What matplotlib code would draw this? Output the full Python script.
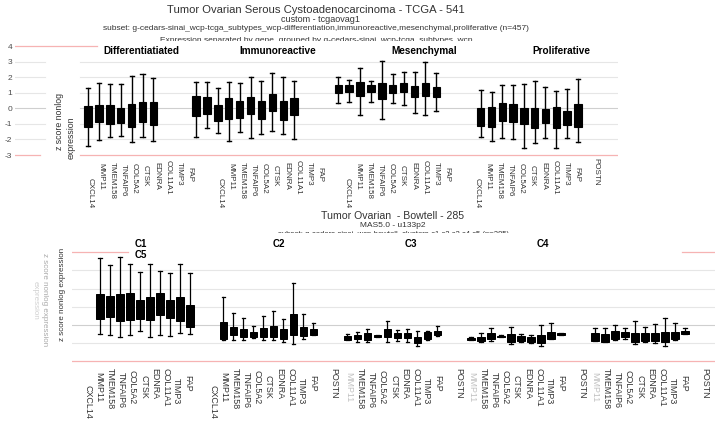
import matplotlib
matplotlib.use('Agg')
import matplotlib.pyplot as plt
from matplotlib.patches import Rectangle

plt.rcParams['font.family'] = ['Liberation Sans', 'DejaVu Sans']

W, H = 721, 424

# ---------------- data ----------------
genes = ['CXCL14', 'MMP11', 'TMEM158', 'TNFAIP6', 'COL5A2', 'CTSK',
         'EDNRA', 'COL11A1', 'TIMP3', 'FAP', 'POSTN']

top_title = 'Tumor Ovarian Serous Cystoadenocarcinoma - TCGA - 541'
top_sub1 = 'custom - tcgaovag1'
top_sub2 = ('subset: g-cedars-sinai_wcp-tcga_subtypes_wcp-differentiation,'
            'immunoreactive,mesenchymal,proliferative (n=457)')
top_sub3 = 'Expression separated by gene, grouped by g-cedars-sinai_wcp-tcga_subtypes_wcp'
top_groups = ['Differentiatiated', 'Immunoreactive', 'Mesenchymal', 'Proliferative']
top_yticks = [4, 3, 2, 1, 0, -1, -2, -3]

# (whisker high, q3, q1, whisker low)
diff = [(1.32, 0.17, -1.18, -2.40), (1.61, 0.19, -0.86, -2.04), (1.54, 0.21, -1.01, -1.86),
        (1.54, 0.04, -0.96, -1.76), (2.09, 0.26, -1.22, -2.15), (2.18, 0.39, -0.86, -1.84),
        (1.93, 0.42, -1.07, -2.09)]
immuno = [(1.67, 0.79, -0.49, -1.82), (1.69, 0.75, -0.37, -1.28), (1.32, 0.21, -0.80, -1.61),
          (1.67, 0.68, -0.69, -2.08), (1.61, 0.49, -0.60, -1.50), (2.03, 0.75, -0.37, -1.89),
          (1.75, 0.49, -0.69, -1.65), (2.25, 0.90, -0.15, -1.44), (2.03, 0.49, -0.75, -1.65),
          (1.75, 0.68, -0.43, -1.99)]
mesen = [(1.99, 1.50, 0.96, 0.32), (1.82, 1.50, 1.07, 0.42), (2.57, 1.67, 0.81, -0.43),
         (1.77, 1.50, 1.03, 0.39), (3.04, 1.61, 0.58, -0.71), (2.20, 1.50, 1.00, 0.32),
         (2.31, 1.64, 1.03, 0.21), (2.31, 1.43, 0.71, -0.28), (2.95, 1.64, 0.81, -0.43),
         (2.25, 1.35, 0.74, -0.17)]
prolif = [(1.18, 0.04, -1.14, -1.82), (1.03, 0.10, -1.18, -2.10), (1.50, 0.32, -0.80, -1.89),
          (1.50, 0.28, -0.86, -1.97), (1.56, 0.00, -1.01, -2.57), (1.75, 0.00, -1.28, -2.25),
          (1.35, -0.06, -0.96, -1.89), (1.13, 0.06, -1.25, -2.53), (1.22, -0.15, -1.07, -1.89),
          (1.86, 0.28, -1.22, -2.15)]

bot_title = 'Tumor Ovarian  - Bowtell - 285'
bot_sub1 = 'MAS5.0 - u133p2'
bot_sub2 = 'subset: g-cedars-sinai_wcp-bowtell_clusters-c1,c2,c3,c4,c5 (n=285)'
bot_groups = ['C1', 'C2', 'C3', 'C4']
bot_extra_label = 'C5'

c1 = [(3.66, 1.69, 0.31, -0.49), (3.30, 1.59, 0.42, -0.55), (3.72, 1.69, 0.24, -0.64),
      (3.35, 1.78, 0.27, -0.53), (2.93, 1.37, 0.31, -0.31), (3.35, 1.52, 0.27, -0.68),
      (2.98, 1.74, 0.55, -0.55), (2.87, 1.37, 0.37, -0.60), (3.35, 1.52, 0.24, -0.46),
      (2.84, 1.10, -0.09, -0.51)]
c2 = [(1.52, 0.18, -0.79, -0.82), (0.68, -0.09, -0.55, -0.82), (0.40, -0.24, -0.68, -0.82),
      (-0.05, -0.40, -0.68, -0.73), (0.51, -0.15, -0.64, -0.82), (0.79, -0.04, -0.68, -0.82),
      (0.33, -0.24, -0.77, -0.92), (2.29, 0.60, -0.55, -1.04), (0.60, -0.13, -0.60, -0.79),
      (0.09, -0.24, -0.55, -0.55)]
c3 = [(-0.49, -0.60, -0.82, -0.82), (-0.40, -0.55, -0.79, -0.92), (-0.24, -0.46, -0.82, -0.92),
      (-0.55, -0.55, -0.68, -0.68), (0.24, -0.24, -0.68, -0.92), (-0.27, -0.46, -0.73, -0.86),
      (-0.24, -0.46, -0.73, -0.92), (-0.31, -0.64, -0.97, -1.15), (-0.31, -0.40, -0.79, -0.82),
      (-0.05, -0.31, -0.55, -0.60)]
c4 = [(-0.64, -0.70, -0.82, -0.82), (-0.46, -0.64, -0.86, -0.92), (-0.18, -0.46, -0.79, -0.86),
      (-0.55, -0.59, -0.68, -0.68), (-0.09, -0.49, -0.92, -1.04), (-0.49, -0.60, -0.88, -0.92),
      (-0.55, -0.68, -0.92, -0.97), (0.00, -0.55, -1.01, -1.15), (0.13, -0.40, -0.79, -0.79),
      (-0.42, -0.46, -0.55, -0.55)]
c5 = [(-0.15, -0.46, -0.88, -0.88), (-0.18, -0.49, -0.92, -0.92), (0.00, -0.31, -0.79, -0.82),
      (-0.15, -0.37, -0.64, -0.79), (0.24, -0.42, -0.92, -1.04), (-0.09, -0.46, -0.86, -0.92),
      (0.05, -0.42, -0.88, -1.01), (0.40, -0.37, -0.92, -1.15), (0.13, -0.37, -0.79, -0.82),
      (-0.18, -0.33, -0.49, -0.49)]

ylabel_lines = ['z score nonlog', 'expression']

# ---------------- layout helpers ----------------
fig = plt.figure(figsize=(W / 100, H / 100), dpi=100)


def fx(px):
    return px / W


def fy(py):
    return 1 - py / H


def axes_px(x0, y0, x1, y1):
    return fig.add_axes([fx(x0), fy(y1), (x1 - x0) / W, (y1 - y0) / H])


def draw_boxes(ax, data, start, step, width, capw, lw):
    stats = [dict(whislo=lo, q1=q1, med=(q1 + q3) / 2, q3=q3, whishi=hi, fliers=[])
             for (hi, q3, q1, lo) in data]
    pos = [start + i * step for i in range(len(data))]
    ax.bxp(stats, positions=pos, widths=width, capwidths=capw, patch_artist=True,
           showfliers=False, manage_ticks=False,
           boxprops=dict(facecolor='black', edgecolor='black', linewidth=lw * 0.8),
           whiskerprops=dict(color='black', linewidth=lw),
           capprops=dict(color='black', linewidth=lw),
           medianprops=dict(color='black', linewidth=0.5))


GRID = '#e6e6e6'
ZERO = '#cfcfcf'
PINK = '#f6b3b3'
TXT = '#333333'

# ---------------- top panel ----------------
tx0, tx1, ty0, ty1 = 15, 618, 44, 157
top_slot_px, top_origin_px = 10.9, 88
top_zero_px, top_unit_px = 108.3, 15.57
axT = axes_px(tx0, ty0, tx1, ty1)
axT.set_xlim((tx0 - top_origin_px) / top_slot_px, (tx1 - top_origin_px) / top_slot_px)
axT.set_ylim((top_zero_px - ty1) / top_unit_px, (top_zero_px - ty0) / top_unit_px)
for s in axT.spines.values():
    s.set_visible(False)
axT.set_xticks([])
axT.set_yticks(top_yticks)
axT.set_yticklabels([str(v) for v in top_yticks])
axT.tick_params(axis='y', length=0, pad=2, labelsize=6, labelcolor='#4d4d4d')

gap0 = (45 - tx0) / (tx1 - tx0)
gap1 = (80 - tx0) / (tx1 - tx0)
for v in top_yticks[1:-1]:
    c = ZERO if v == 0 else GRID
    axT.axhline(v, 0, gap0, color=c, lw=0.8, zorder=0)
    axT.axhline(v, gap1, 1, color=c, lw=0.8, zorder=0)
axT.axhline(top_yticks[0], 0, (97 - tx0) / (tx1 - tx0), color=PINK, lw=0.9, zorder=0)
axT.axhline(top_yticks[-1], 0, gap0 - 0.008, color=PINK, lw=0.9, zorder=0)
axT.axhline(top_yticks[-1], gap1, 1, color=PINK, lw=0.9, zorder=0)

top_data = [diff, immuno, mesen, prolif]
top_box_start = [0.0, 9.91, 22.96, 36.03]
top_box_step = [1.0, 1.0, 1.0, 0.99]
for d, st, sp in zip(top_data, top_box_start, top_box_step):
    draw_boxes(axT, d, st, sp, 0.68, 0.37, 1.0)

# facet titles (top)
top_strip_px = [141, 278, 424, 561]
for name, px in zip(top_groups, top_strip_px):
    fig.text(fx(px), fy(51), name, ha='center', va='center', fontsize=7.2,
             fontweight='bold', color='black', zorder=11)

# gene labels (top)
top_label_start = [0.18, 12.11, 23.76, 35.69]
top_label_counts = [10, 10, 10, 11]
top_label_drop_px = [16, 1, 0, 2, 1, 3, 0, -2, 0, 5, -4]
for st, n in zip(top_label_start, top_label_counts):
    for i in range(n):
        x = st + i * 1.02 if i < 10 else st + 10.9
        ypx = 162 + top_label_drop_px[i]
        axT.text(x, (top_zero_px - ypx) / top_unit_px, genes[i], rotation=-90,
                 ha='center', va='top', fontsize=5.8, color=TXT, clip_on=False)

# y label (top)
fig.text(fx(59), fy(122), ylabel_lines[0], rotation=90, ha='center', va='center',
         fontsize=6.3, color=TXT)
fig.text(fx(71), fy(138), ylabel_lines[1], rotation=90, ha='center', va='center',
         fontsize=6.3, color=TXT)

# titles (top)
fig.text(fx(316), fy(10), top_title, ha='center', va='center', fontsize=8.1, color=TXT)
fig.text(fx(320), fy(19), top_sub1, ha='center', va='center', fontsize=6.5, color=TXT)
fig.text(fx(316), fy(28.5), top_sub2, ha='center', va='center', fontsize=6, color=TXT)
fig.text(fx(316), fy(40), top_sub3, ha='center', va='center', fontsize=6, color=TXT)
fig.add_artist(Rectangle((fx(100), fy(45)), fx(460), (45 - 41.3) / H,
                         transform=fig.transFigure, facecolor='white',
                         edgecolor='none', zorder=10))

# ---------------- bottom panel ----------------
bx0, bx1, by0, by1 = 72, 715, 250, 364
bot_slot_px, bot_origin_px = 10.0, 100
bot_zero_px, bot_unit_px = 325, 18.2
axB = axes_px(bx0, by0, bx1, by1)
axB.set_xlim((bx0 - bot_origin_px) / bot_slot_px, (bx1 - bot_origin_px) / bot_slot_px)
axB.set_ylim((bot_zero_px - by1) / bot_unit_px, (bot_zero_px - by0) / bot_unit_px)
for s in axB.spines.values():
    s.set_visible(False)
axB.set_xticks([])
axB.set_yticks([])
bot_grid_vals = [4, 3, 2, 1, 0, -1, -2]
for v in bot_grid_vals[1:-1]:
    axB.axhline(v, color=ZERO if v == 0 else GRID, lw=0.8, zorder=0)
axB.axhline(bot_grid_vals[-1], color=PINK, lw=0.9, zorder=0)
axB.axhline(bot_grid_vals[0], 0, (128 - bx0) / (bx1 - bx0), color=PINK, lw=0.9, zorder=0)
axB.axhline(bot_grid_vals[0], (682 - bx0) / (bx1 - bx0), 1, color=PINK, lw=0.9, zorder=0)

bot_data = [c1, c2, c3, c4, c5]
bot_box_start = [0.0, 12.33, 24.73, 37.1, 49.5]
for d, st in zip(bot_data, bot_box_start):
    draw_boxes(axB, d, st, 1.0, 0.73, 0.35, 0.9)

# strip labels (bottom)
bot_strip_px = [141, 279, 411, 543]
for name, px in zip(bot_groups, bot_strip_px):
    fig.text(fx(px), fy(243.8), name, ha='center', va='center', fontsize=7,
             fontweight='bold', color='black', zorder=11)
fig.text(fx(141), fy(255.5), bot_extra_label, ha='center', va='center', fontsize=7,
         fontweight='bold', color='black', zorder=11)

# gene labels (bottom)
bot_label_start = [-1.2, 11.3, 23.8, 36.1, 48.4]
bot_label_first = [0, 0, 1, 1, 1]
bot_label_last = [10, 11, 11, 11, 11]
bot_label_drop_px = [17, 4, 0, 4, 2, 7, 0, 0, 10, 7, 0]
for g, st in enumerate(bot_label_start):
    for i in range(bot_label_first[g], bot_label_last[g]):
        x = st + i * 1.11 if i < 10 else st + 12.1
        ypx = 368 + bot_label_drop_px[i]
        faint = (g >= 2 and i == 1)
        axB.text(x, (bot_zero_px - ypx) / bot_unit_px, genes[i], rotation=-90,
                 ha='center', va='top', fontsize=6.4,
                 color='#999999' if faint else TXT, alpha=0.6 if faint else 1,
                 clip_on=False)

# y label (bottom) + faint ghost copies
fig.text(fx(63), fy(294), ' '.join(ylabel_lines), rotation=90, ha='center',
         va='center', fontsize=5.8, color=TXT)
fig.text(fx(44), fy(300), ylabel_lines[0] + ' ' + ylabel_lines[1], rotation=270,
         ha='center', va='center', fontsize=5.8, color='#555555', alpha=0.5)
fig.text(fx(35), fy(300), ylabel_lines[1], rotation=270, ha='center', va='center',
         fontsize=5.8, color='#777777', alpha=0.35)

# titles (bottom)
fig.text(fx(393), fy(216), bot_title, ha='center', va='center', fontsize=7.6, color=TXT)
fig.text(fx(393), fy(225.5), bot_sub1, ha='center', va='center', fontsize=6, color=TXT)
fig.text(fx(393), fy(235.0), bot_sub2, ha='center', va='center', fontsize=5.5, color=TXT)
fig.add_artist(Rectangle((fx(200), fy(242)), fx(400), (242 - 232.6) / H,
                         transform=fig.transFigure, facecolor='white',
                         edgecolor='none', zorder=10))

fig.savefig('out.png', dpi=100)
